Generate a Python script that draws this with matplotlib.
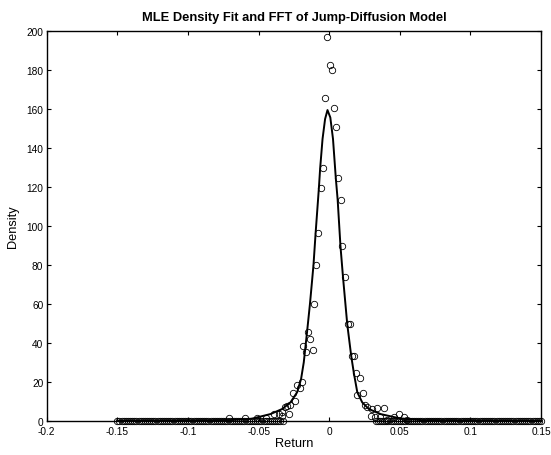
import numpy as np
import matplotlib
matplotlib.use("Agg")
import matplotlib.pyplot as plt

plt.rcParams['font.family'] = ['Liberation Sans', 'DejaVu Sans']

emp_x = [-0.0012, 0.0007, 0.0019, -0.0030, 0.0033, 0.0050, -0.0045, 0.0064,
         -0.0059, 0.0083, -0.0076, 0.0092, -0.0090, 0.0109, -0.0111, -0.0151,
         -0.0135, -0.0182, -0.0163, -0.0118, 0.0130, 0.0144, 0.0163, 0.0175,
         0.0191, 0.0215, 0.0200, 0.0236, -0.0191, -0.0225, -0.0210, -0.0257,
         -0.0241, -0.0276, -0.0310, -0.0298, -0.0287, -0.0333, -0.0357, -0.0393,
         -0.0333, -0.0450, -0.0510, -0.0594, -0.0712,
         0.0255, 0.0271, 0.0302, 0.0338, 0.0390, 0.0293, 0.0323, 0.0363,
         0.0410, 0.0492, 0.0457, 0.0528, 0.0553]
emp_y = [196.6, 182.6, 180.0, 165.3, 160.2, 150.5, 129.4, 124.3,
         119.2, 113.3, 96.3, 89.4, 80.0, 73.5, 60.0, 45.3,
         41.9, 38.5, 35.4, 36.3, 49.4, 49.4, 33.2, 33.2,
         24.3, 22.1, 13.2, 14.1, 19.7, 18.3, 16.6, 14.1,
         10.3, 8.1, 7.2, 7.7, 3.4, 4.3, 3.4, 3.4,
         2.6, 1.5, 1.2, 1.2, 1.2,
         8.0, 6.9, 6.0, 6.3, 6.3, 2.2, 1.9, 1.7,
         0.5, 3.4, 1.7, 1.7, 0.5]

# zero-density bins in the tails (bin width 0.0015)
tail_left_x = np.arange(-0.15, -0.0329, 0.0015)
tail_right_x = np.arange(0.0330, 0.1501, 0.0015)
tail_left_y = [0.0] * len(tail_left_x)
tail_right_y = [0.0] * len(tail_right_x)

# ---- data: fitted (FFT) density curve ----
fit_x = [-0.150, -0.070, -0.055, -0.0416, -0.0333, -0.0274, -0.0227, -0.0199,
         -0.0180, -0.0157, -0.0136, -0.0120, -0.0111, -0.0096, -0.0073, -0.0064,
         -0.0047, -0.0029, -0.0012, 0.0008, 0.0027, 0.0047, 0.0060, 0.0080,
         0.0098, 0.0128, 0.0156, 0.0175, 0.0199, 0.0234, 0.0281,
         0.0364, 0.050, 0.065, 0.150]
fit_y = [0.0, 0.3, 1.0, 3.4, 6.0, 9.4, 14.6, 21.4,
         29.9, 45.3, 60.0, 72.7, 80.0, 96.3, 119.2, 129.4,
         144.5, 154.7, 159.3, 155.5, 144.5, 124.3, 113.3, 89.4,
         73.5, 49.4, 33.2, 24.3, 14.6, 9.4, 6.0,
         3.4, 1.2, 0.3, 0.0]

xticks = [-0.2, -0.15, -0.1, -0.05, 0, 0.05, 0.1, 0.15]
xtick_labels = ['-0.2', '-0.15', '-0.1', '-0.05', '0', '0.05', '0.1', '0.15']
yticks = [0, 20, 40, 60, 80, 100, 120, 140, 160, 180, 200]

fig = plt.figure(figsize=(5.51, 4.56), dpi=100)
ax = fig.add_axes([0.0848, 0.0752, 0.8971, 0.8553])

mk = dict(linestyle='none', marker='o', markersize=4.6, markerfacecolor='none',
          markeredgecolor='black', markeredgewidth=0.6, clip_on=False)
ax.plot(tail_left_x, tail_left_y, **mk)
ax.plot(tail_right_x, tail_right_y, **mk)
ax.plot(emp_x, emp_y, **mk)
ax.plot(fit_x, fit_y, color='black', linewidth=1.4)

ax.set_xlim(-0.2, 0.15)
ax.set_ylim(0, 200)
ax.set_xticks(xticks)
ax.set_xticklabels(xtick_labels)
ax.set_yticks(yticks)
ax.tick_params(direction='in', top=True, right=True, length=3, width=0.8,
               labelsize=7.3)
ax.tick_params(axis='x', pad=3.5)
ax.tick_params(axis='y', pad=2.5)
for s in ax.spines.values():
    s.set_linewidth(1.0)

ax.set_xlabel('Return', fontsize=9.2, labelpad=1)
ax.set_ylabel('Density', fontsize=9.2, labelpad=5)
ax.set_title('MLE Density Fit and FFT of Jump-Diffusion Model', fontsize=9.3,
             fontweight='bold', pad=8)

fig.savefig('out.png', dpi=100)
